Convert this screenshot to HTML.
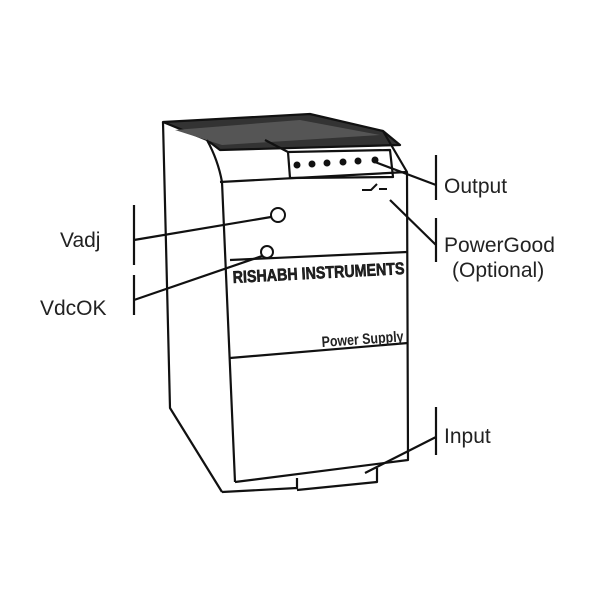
<!DOCTYPE html>
<html><head><meta charset="utf-8"><style>
html,body{margin:0;padding:0;background:#fff;width:600px;height:600px;overflow:hidden}
text{font-family:"Liberation Sans",sans-serif;fill:#222}
</style></head><body>
<svg width="600" height="600" viewBox="0 0 600 600" xmlns="http://www.w3.org/2000/svg">
<g fill="none" stroke="#111" stroke-width="2.2" stroke-linejoin="round">
<polygon points="163,122 310,114 383,131 400,145 220,150 207,140" fill="#333" stroke="#111"/>
<polygon points="175,130 300,120 380,135 222,145" fill="#555" stroke="none"/>
<path d="M163,122 L170,408 L222,492"/>
<path d="M207,140 Q218,160 222,182 L235,482"/>
<path d="M383,131 L407,172 L408,460 L235,482"/>
<path d="M220,182 L407,172"/>
<path d="M265,140 L288,152 L390,150 L393,177 L290,178 L288,152"/>
<g fill="#111" stroke="none">
<circle cx="297" cy="165" r="3.5"/><circle cx="312" cy="164" r="3.5"/><circle cx="327" cy="163" r="3.5"/><circle cx="343" cy="162" r="3.5"/><circle cx="358" cy="161" r="3.5"/><circle cx="375" cy="160" r="3.5"/>
</g>
<path d="M362,190 L371,190 L377,184 M379,189 L387,189" stroke-width="2"/>
<path d="M230,260 L407,252"/>
<path d="M230,358 L408,343"/>
<path d="M222,492 L297,488 L297,478 M297,490 L377,482 L377,468"/>
<circle cx="278" cy="215" r="7" stroke-width="2"/>
<circle cx="267" cy="252" r="6" stroke-width="2"/>
<path d="M134,205 L134,265 M134,240 L271,217"/>
<path d="M134,275 L134,315 M134,300 L262,256"/>
<path d="M436,155 L436,200 M436,185 L375,162"/>
<path d="M436,218 L436,262 M436,245 L390,200"/>
<path d="M436,407 L436,455 M436,437 L365,473"/>
</g>
<text x="233" y="283" font-size="17" font-weight="bold" fill="#111" stroke="#111" stroke-width="0.6" transform="rotate(-3 233 283)" textLength="172" lengthAdjust="spacingAndGlyphs">RISHABH INSTRUMENTS</text>
<text x="322" y="347" font-size="15" font-weight="bold" transform="rotate(-4 322 347)" textLength="82" lengthAdjust="spacingAndGlyphs">Power Supply</text>
<text x="60" y="247" font-size="21">Vadj</text>
<text x="40" y="315" font-size="21">VdcOK</text>
<text x="444" y="193" font-size="21">Output</text>
<text x="444" y="252" font-size="21">PowerGood</text>
<text x="452" y="277" font-size="21">(Optional)</text>
<text x="444" y="443" font-size="21">Input</text>
</svg>
</body></html>
